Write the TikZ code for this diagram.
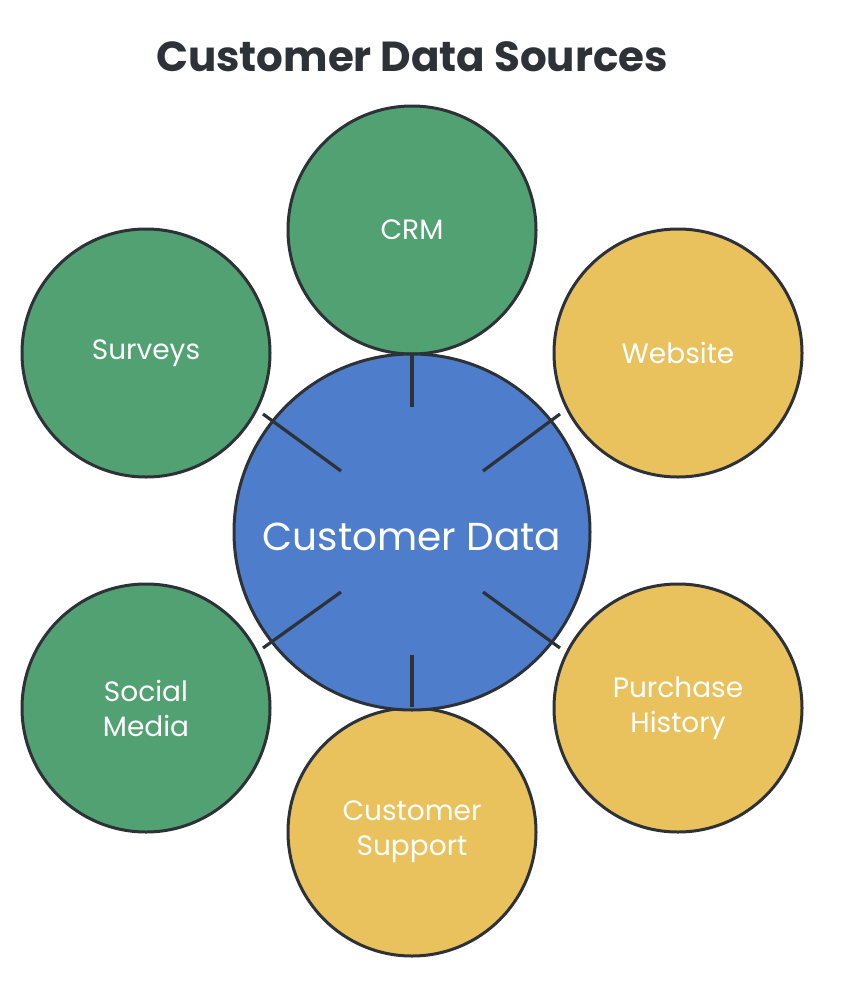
\documentclass[tikz,border=0pt]{standalone}
\usepackage{fontspec}
\setmainfont{Poppins}
\definecolor{cgreen}{HTML}{52A173}
\definecolor{cyellow}{HTML}{E9C25E}
\definecolor{cblue}{HTML}{4D7DCB}
\definecolor{cdark}{HTML}{2D3238}
\begin{document}
\begin{tikzpicture}[x=1pt,y=-1pt,
  sat/.style={circle,draw=cdark,line width=3pt,minimum size=248pt,inner sep=0pt,text=white,font=\fontsize{28}{35}\selectfont,align=center},
  hub/.style={circle,draw=cdark,line width=3pt,fill=cblue,minimum size=356pt,inner sep=0pt,text=white,font=\fontsize{39}{44}\selectfont},
  link/.style={draw=cdark,line width=3.2pt}]
\useasboundingbox (0,0) rectangle (852,988);
\node[font=\fontsize{42}{48}\selectfont\bfseries,text=cdark] (title) at (412,57) {Customer Data Sources};
\node[sat,fill=cgreen] (crm) at (412,230) {CRM};
\node[sat,fill=cgreen] (surveys) at (146,353) {Surveys};
\node[sat,fill=cyellow] (website) at (678,353) {Website};
\node[sat,fill=cgreen] (social) at (146,708) {Social\\Media};
\node[sat,fill=cyellow] (purchase) at (678,708) {Purchase\\History};
\node[sat,fill=cyellow] (support) at (412,832) {Customer\\Support};
\node[hub] (hub) at (412,532) {};
\node[text=white,font=\fontsize{39}{44}\selectfont] (hublabel) at (412,537) {Customer Data};
\coordinate (c1a) at (412,353); \coordinate (c1b) at (412,407);
\coordinate (c2a) at (263,414); \coordinate (c2b) at (341,471);
\coordinate (c3a) at (560,414); \coordinate (c3b) at (483,471);
\coordinate (c4a) at (263,648); \coordinate (c4b) at (341,592);
\coordinate (c5a) at (560,648); \coordinate (c5b) at (483,592);
\coordinate (c6a) at (412,707); \coordinate (c6b) at (412,655);
\draw[link] (c1a) -- (c1b);
\draw[link] (c2a) -- (c2b);
\draw[link] (c3a) -- (c3b);
\draw[link] (c4a) -- (c4b);
\draw[link] (c5a) -- (c5b);
\draw[link] (c6a) -- (c6b);
\end{tikzpicture}
\end{document}
